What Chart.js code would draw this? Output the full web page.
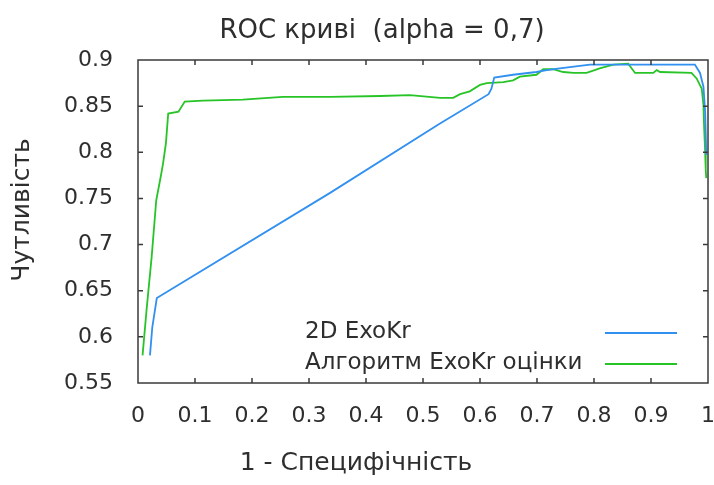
<!DOCTYPE html>
<html>
<head>
<meta charset="utf-8">
<script src="https://cdn.jsdelivr.net/npm/chart.js@4"></script>
<style>
  html, body { margin: 0; padding: 0; background: #fff; }
  #wrap { width: 714px; height: 485px; }
</style>
</head>
<body>
<div id="wrap"><canvas id="roc"></canvas></div>
<script>
// ROC криві, дані
const chartTitle = 'ROC криві  (alpha = 0,7)';
const xTitle = '1 - Специфічність';
const yTitle = 'Чутливість';
const seriesNames = ['2D ExoKr', 'Алгоритм ExoKr оцінки'];
const seriesColors = ['#3190f0', '#27c427'];

const blueX = [0.021, 0.025, 0.033, 0.337, 0.527, 0.615, 0.62, 0.625, 0.658, 0.699, 0.717, 0.74, 0.793, 0.977, 0.986, 0.992, 0.995, 0.997];
const blueY = [0.580, 0.610, 0.642, 0.756, 0.830, 0.863, 0.869, 0.881, 0.884, 0.887, 0.889, 0.891, 0.895, 0.895, 0.886, 0.871, 0.844, 0.797];

const greenX = [0.008, 0.015, 0.024, 0.032, 0.040, 0.044, 0.049, 0.053, 0.071, 0.082, 0.114, 0.184, 0.254, 0.337, 0.425, 0.477,
  0.530, 0.553, 0.565, 0.582, 0.600, 0.612, 0.641, 0.658, 0.670, 0.699, 0.711, 0.728, 0.746, 0.764, 0.787, 0.810,
  0.834, 0.860, 0.872, 0.904, 0.910, 0.916, 0.971, 0.980, 0.989, 0.992, 0.993, 0.995, 0.996, 0.997];
const greenY = [0.580, 0.629, 0.687, 0.748, 0.774, 0.788, 0.810, 0.842, 0.844, 0.855, 0.856, 0.857, 0.860, 0.860, 0.861, 0.862,
  0.859, 0.859, 0.863, 0.866, 0.873, 0.875, 0.876, 0.878, 0.882, 0.884, 0.890, 0.890, 0.887, 0.886, 0.886, 0.891,
  0.895, 0.896, 0.886, 0.886, 0.889, 0.887, 0.886, 0.880, 0.869, 0.851, 0.830, 0.800, 0.781, 0.772];

const xMin = 0, xMax = 1, xStep = 0.1;
const yMin = 0.55, yMax = 0.9, yStep = 0.05;

const FONT = '"DejaVu Sans", "Noto Sans", sans-serif';
const TEXT = '#2e2e2e';

function toPoints(xs, ys) {
    return xs.map((x, i) => ({ x: x, y: ys[i] }));
}

// рамка з внутрішніми рисками, заголовки та легенда
const decor = {
    id: 'decor',
    afterDatasetsDraw(chart) {
        const ctx = chart.ctx;
        const a = chart.chartArea;
        const xs = chart.scales.x, ys = chart.scales.y;
        ctx.save();
        ctx.strokeStyle = '#3a3a3a';
        ctx.lineWidth = 1.5;
        ctx.strokeRect(a.left, a.top, a.right - a.left, a.bottom - a.top);
        ctx.beginPath();
        const len = 5;
        xs.ticks.forEach(t => {
            const p = xs.getPixelForValue(t.value);
            if (p <= a.left + 1 || p >= a.right - 1) return;
            ctx.moveTo(p, a.bottom); ctx.lineTo(p, a.bottom - len);
            ctx.moveTo(p, a.top); ctx.lineTo(p, a.top + len);
        });
        ys.ticks.forEach(t => {
            const p = ys.getPixelForValue(t.value);
            if (p <= a.top + 1 || p >= a.bottom - 1) return;
            ctx.moveTo(a.left, p); ctx.lineTo(a.left + len, p);
            ctx.moveTo(a.right, p); ctx.lineTo(a.right - len, p);
        });
        ctx.stroke();

        // легенда всередині графіка
        ctx.font = '23px ' + FONT;
        ctx.textBaseline = 'middle';
        ctx.textAlign = 'left';
        chart.data.datasets.forEach((ds, i) => {
            const y = 332 + i * 31;
            ctx.fillStyle = TEXT;
            ctx.fillText(ds.label, 305, y);
            ctx.strokeStyle = ds.borderColor;
            ctx.lineWidth = 1.8;
            ctx.beginPath();
            ctx.moveTo(605, y + 1); ctx.lineTo(677, y + 1);
            ctx.stroke();
        });
        ctx.restore();
    },
    afterDraw(chart) {
        const ctx = chart.ctx;
        ctx.save();
        ctx.fillStyle = TEXT;
        ctx.textAlign = 'center';
        ctx.textBaseline = 'middle';
        ctx.font = '26px ' + FONT;
        ctx.fillText(chartTitle, 382, 31);
        ctx.font = '25px ' + FONT;
        ctx.fillText(xTitle, 356, 463);
        ctx.translate(22, 210);
        ctx.rotate(-Math.PI / 2);
        ctx.fillText(yTitle, 0, 0);
        ctx.restore();
    }
};

new Chart(document.getElementById('roc'), {
    type: 'line',
    data: {
        datasets: [
            {
                label: seriesNames[0],
                data: toPoints(blueX, blueY),
                borderColor: seriesColors[0],
                backgroundColor: seriesColors[0],
                borderWidth: 1.8,
                pointRadius: 0,
                tension: 0,
                fill: false
            },
            {
                label: seriesNames[1],
                data: toPoints(greenX, greenY),
                borderColor: seriesColors[1],
                backgroundColor: seriesColors[1],
                borderWidth: 1.8,
                pointRadius: 0,
                tension: 0,
                fill: false
            }
        ]
    },
    options: {
        responsive: true,
        maintainAspectRatio: false,
        animation: false,
        layout: { padding: { top: 60, right: 6, left: 0, bottom: 0 } },
        plugins: {
            legend: { display: false },
            title: { display: false },
            tooltip: { enabled: false }
        },
        scales: {
            x: {
                type: 'linear',
                min: xMin,
                max: xMax,
                grid: { display: false, drawTicks: false },
                border: { display: false },
                ticks: {
                    stepSize: xStep,
                    padding: 20,
                    maxRotation: 0,
                    color: TEXT,
                    font: { family: FONT, size: 22 },
                    callback: v => String(+v.toFixed(1))
                },
                afterFit: s => { s.height = 102; s.paddingLeft = 0; s.paddingRight = 0; }
            },
            y: {
                min: yMin,
                max: yMax,
                grid: { display: false, drawTicks: false },
                border: { display: false },
                ticks: {
                    stepSize: yStep,
                    padding: 25,
                    color: TEXT,
                    font: { family: FONT, size: 22 },
                    callback: v => String(+v.toFixed(2))
                },
                afterFit: s => { s.width = 138; s.paddingTop = 0; s.paddingBottom = 0; }
            }
        }
    },
    plugins: [decor]
});
</script>
</body>
</html>
